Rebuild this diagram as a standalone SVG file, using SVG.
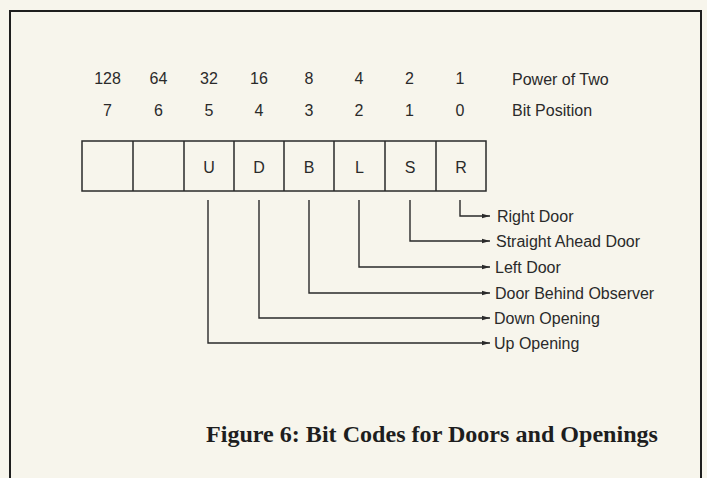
<svg xmlns="http://www.w3.org/2000/svg" width="707" height="478" viewBox="0 0 707 478">
<style>
.t{font-family:"Liberation Sans",Arial,sans-serif;font-size:16px;fill:#2a2a2a}
.c{text-anchor:middle}
.cap{font-family:"Liberation Serif","Times New Roman",serif;font-size:23px;font-weight:bold;fill:#1e1e1e}
.cell{fill:none;stroke:#2a2a2a;stroke-width:1.5}
.ln{fill:none;stroke:#2a2a2a;stroke-width:1.4}
</style>
<defs>
<marker id="ah" markerWidth="9" markerHeight="6" refX="8" refY="3" orient="auto" markerUnits="userSpaceOnUse">
<path d="M0,0.8 L8,3 L0,5.2 Z" fill="#2a2a2a"/>
</marker>
</defs>
<rect x="0" y="0" width="707" height="478" fill="#f7f5ec"/>
<g id="frame">
<path d="M10,478 L10,11 L701,11 L701,478" fill="none" stroke="#1e1e1e" stroke-width="2"/>
</g>
<g id="header">
<text class="t c" x="107.5" y="84">128</text>
<text class="t c" x="158.5" y="84">64</text>
<text class="t c" x="209" y="84">32</text>
<text class="t c" x="259" y="84">16</text>
<text class="t c" x="309" y="84">8</text>
<text class="t c" x="359" y="84">4</text>
<text class="t c" x="409.5" y="84">2</text>
<text class="t c" x="460" y="84">1</text>
<text class="t" x="512" y="85">Power of Two</text>
<text class="t c" x="107.5" y="116">7</text>
<text class="t c" x="158.5" y="116">6</text>
<text class="t c" x="209" y="116">5</text>
<text class="t c" x="259" y="116">4</text>
<text class="t c" x="309" y="116">3</text>
<text class="t c" x="359" y="116">2</text>
<text class="t c" x="409.5" y="116">1</text>
<text class="t c" x="460" y="116">0</text>
<text class="t" x="512" y="116">Bit Position</text>
</g>
<g id="register">
<rect class="cell" x="82" y="141" width="404" height="50"/>
<path class="cell" d="M133,141V191M184,141V191M234,141V191M284,141V191M334,141V191M385,141V191M436,141V191"/>
</g>
<g id="bit5"><text class="t c" x="209" y="173">U</text></g>
<g id="bit4"><text class="t c" x="259" y="173">D</text></g>
<g id="bit3"><text class="t c" x="309" y="173">B</text></g>
<g id="bit2"><text class="t c" x="359.5" y="173">L</text></g>
<g id="bit1"><text class="t c" x="410" y="173">S</text></g>
<g id="bit0"><text class="t c" x="461" y="173">R</text></g>
<g id="connectors">
<path class="ln" d="M460,200 V216 H490" marker-end="url(#ah)"/>
<path class="ln" d="M410,200 V241 H490" marker-end="url(#ah)"/>
<path class="ln" d="M359,200 V267 H490" marker-end="url(#ah)"/>
<path class="ln" d="M309,200 V293 H490" marker-end="url(#ah)"/>
<path class="ln" d="M259,200 V318 H490" marker-end="url(#ah)"/>
<path class="ln" d="M208,200 V343 H490" marker-end="url(#ah)"/>
</g>
<g id="labels">
<text class="t" x="497" y="222">Right Door</text>
<text class="t" x="496" y="247">Straight Ahead Door</text>
<text class="t" x="495" y="273">Left Door</text>
<text class="t" x="495" y="299">Door Behind Observer</text>
<text class="t" x="494" y="324">Down Opening</text>
<text class="t" x="494" y="349">Up Opening</text>
</g>
<g id="caption">
<text class="cap" x="206" y="442" textLength="452" lengthAdjust="spacingAndGlyphs">Figure 6: Bit Codes for Doors and Openings</text>
</g>
</svg>
